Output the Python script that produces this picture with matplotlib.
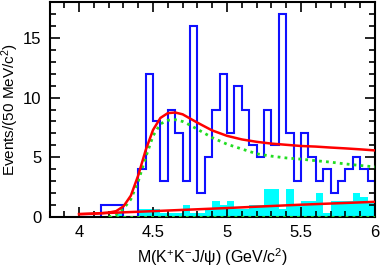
import numpy as np
import matplotlib
matplotlib.use("Agg")
import matplotlib.pyplot as plt

plt.rcParams['font.family'] = ['Liberation Sans', 'DejaVu Sans']
plt.rcParams['mathtext.fontset'] = 'custom'
plt.rcParams['mathtext.rm'] = 'Liberation Sans'
plt.rcParams['mathtext.it'] = 'Liberation Sans:italic'

# bin edges, 50 MeV bins from 4.0 to 6.0 GeV
edges = np.round(np.linspace(4.0, 6.0, 41), 2)

# data events per bin
data = [0, 0, 0, 1, 1, 1, 0, 0, 4, 12,
        8, 3, 9, 7, 3, 16, 2, 5, 9, 12,
        7, 11, 9, 6, 5, 9, 6, 17, 7, 3,
        7, 5, 3, 4, 2, 3, 4, 5, 4, 3]

# scaled sideband background (cyan)
sideband = [0, 0, 0, 0, 0, 0.33, 0, 0, 0.67, 0.67,
            0.67, 0.33, 0.33, 0.33, 1.0, 0.33, 0.33, 0.67, 1.33, 1.0,
            1.33, 0.67, 0.67, 1.0, 1.0, 2.33, 2.33, 0.67, 2.33, 1.0,
            1.33, 1.33, 2.0, 0.33, 1.33, 1.33, 1.33, 2.0, 1.67, 1.33]

# fit curves
fit_x = [4.00, 4.10, 4.20, 4.25, 4.30, 4.35, 4.40, 4.45, 4.50, 4.55,
         4.60, 4.65, 4.70, 4.75, 4.80, 4.90, 5.00, 5.10, 5.20, 5.30,
         5.40, 5.50, 5.60, 5.70, 5.80, 5.90, 6.00]
fit_total = [0.25, 0.28, 0.38, 0.5, 0.9, 1.8, 3.5, 5.6, 7.3, 8.3,
             8.7, 8.75, 8.6, 8.25, 7.9, 7.25, 6.8, 6.5, 6.3, 6.15,
             6.05, 5.95, 5.9, 5.82, 5.75, 5.67, 5.58]

sig_x = [4.20, 4.25, 4.30, 4.35, 4.40, 4.45, 4.50, 4.55, 4.60, 4.65,
         4.70, 4.75, 4.80, 4.90, 5.00, 5.10, 5.20, 5.30, 5.40, 5.50,
         5.60, 5.70, 5.80, 5.90, 6.00]
fit_sig = [0.0, 0.2, 0.7, 1.5, 3.0, 5.0, 6.8, 7.8, 8.1, 8.15,
           8.0, 7.7, 7.35, 6.65, 6.1, 5.7, 5.3, 5.1, 4.95, 4.85,
           4.72, 4.6, 4.45, 4.32, 4.2]

bkg_x = [4.0, 4.5, 5.0, 5.5, 6.0]
fit_bkg = [0.25, 0.5, 0.76, 1.04, 1.28]

fig = plt.figure(figsize=(3.81, 2.78), dpi=100)
ax = fig.add_axes([0.13, 0.219, 0.854, 0.774])

ax.stairs(sideband, edges, fill=True, color='#00ffff', zorder=1)
ax.stairs(data, edges, color='#1010ff', lw=1.5, zorder=2)
ax.plot([4.2, 6.0], [0, 0], color='#22dd22', lw=2, ls=(0, (1, 1.5)), zorder=3)
ax.plot(sig_x, fit_sig, color='#22dd22', lw=2, ls=(0, (1, 1.5)), zorder=3)
ax.plot(bkg_x, fit_bkg, color='red', lw=1.8, zorder=4)
ax.plot(fit_x, fit_total, color='red', lw=1.8, zorder=4)

ax.set_xlim(3.8, 6.0)
ax.set_ylim(0, 18)
ax.set_xticks([4, 4.5, 5, 5.5, 6])
ax.set_xticklabels(['4', '4.5', '5', '5.5', '6'])
ax.set_yticks([0, 5, 10, 15])
ax.set_xticks(np.arange(3.8, 6.01, 0.1), minor=True)
ax.set_yticks(np.arange(0, 18.1, 1), minor=True)
ax.tick_params(which='both', direction='in', top=True, right=True, labelsize=12, width=1.2)
ax.tick_params(which='major', length=7, pad=6)
ax.tick_params(which='minor', length=4)
for s in ax.spines.values():
    s.set_linewidth(1.5)

ax.set_xlabel('M(K$^{+}$K$^{-}$J/ψ) (GeV/c$^{2}$)', fontsize=11.5, labelpad=4)
ax.set_ylabel('Events/(50 MeV/c$^{2}$)', fontsize=11)
ax.yaxis.set_label_coords(-0.088, 0.5)

fig.savefig('out.png', dpi=100)
